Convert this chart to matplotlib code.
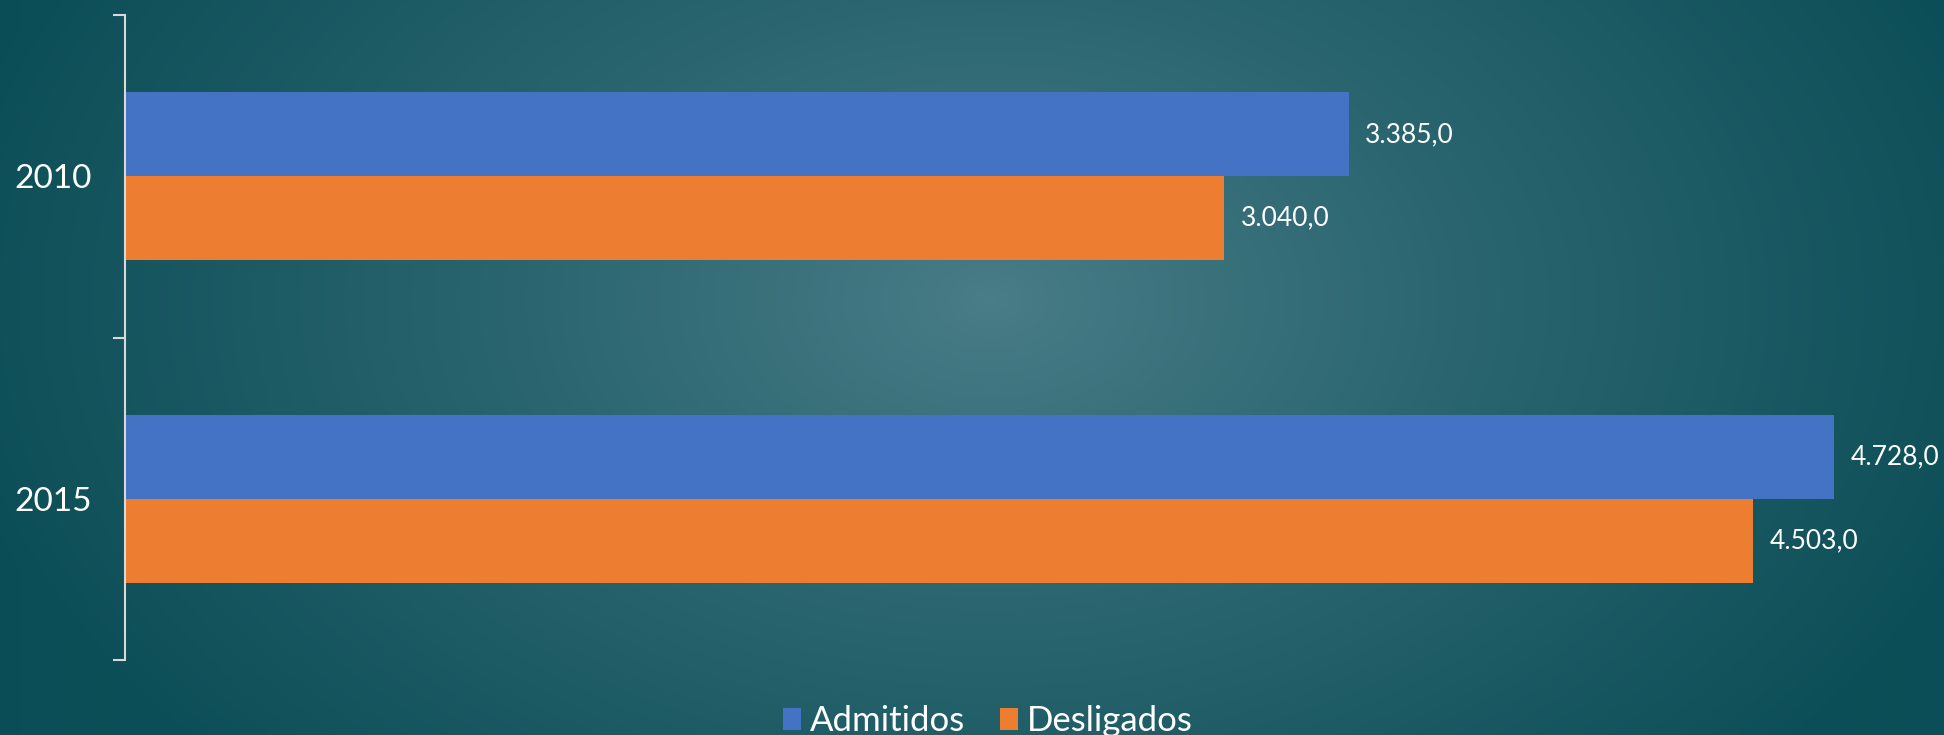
import numpy as np
import matplotlib.pyplot as plt
from matplotlib.colors import to_rgb

# ------------------------------------------------------------
# Data
# ------------------------------------------------------------
years = ["2010", "2015"]
admitidos = [3385.0, 4728.0]
desligados = [3040.0, 4503.0]
series_names = ["Admitidos", "Desligados"]

BLUE = "#4472c4"
ORANGE = "#ed7d31"
BG_CENTER = "#4a7e89"
BG_EDGE = "#0c4e57"

plt.rcParams["font.family"] = ["Lato", "DejaVu Sans"]

W, H = 1944, 735
fig = plt.figure(figsize=(W / 100, H / 100), dpi=100)

# ------------------------------------------------------------
# Radial background
# ------------------------------------------------------------
bg = fig.add_axes([0, 0, 1, 1], zorder=-10)
yy, xx = np.mgrid[0:H, 0:W]
r = np.sqrt(((xx - 990) / 1050.0) ** 2 + ((yy - 300) / 700.0) ** 2)
t = np.clip(r, 0, 1) ** 0.85
c0 = np.array(to_rgb(BG_CENTER))
c1 = np.array(to_rgb(BG_EDGE))
img = c0[None, None, :] * (1 - t[..., None]) + c1[None, None, :] * t[..., None]
bg.imshow(img, aspect="auto", extent=[0, 1, 0, 1], origin="upper")
bg.axis("off")

# ------------------------------------------------------------
# Bars
# ------------------------------------------------------------
ax = fig.add_axes([125 / W, 75 / H, 1807.5 / W, 645 / H])
ax.patch.set_alpha(0)

pos = np.arange(len(years))
bh = 0.26
b1 = ax.barh(pos - bh / 2, admitidos, height=bh, color=BLUE, label=series_names[0])
b2 = ax.barh(pos + bh / 2, desligados, height=bh, color=ORANGE, label=series_names[1])

fmt = lambda v: f"{v:,.1f}".replace(",", "X").replace(".", ",").replace("X", ".")
for bars in (b1, b2):
    ax.bar_label(bars, labels=[fmt(b.get_width()) for b in bars],
                 padding=12, color="white", fontsize=19)

ax.set_xlim(0, 5000)
ax.set_ylim(1.5, -0.5)
ax.xaxis.set_visible(False)
for s in ("top", "right", "bottom"):
    ax.spines[s].set_visible(False)
ax.spines["left"].set_color("#d9d9d9")
ax.spines["left"].set_linewidth(1.5)

# boundary ticks on the axis, year labels between them
ax.set_yticks([-0.5, 0.5, 1.5])
ax.set_yticklabels([])
ax.tick_params(axis="y", which="major", direction="out", length=8.6,
               width=1.5, color="#d9d9d9")
ax.set_yticks(pos, minor=True)
ax.set_yticklabels(years, minor=True)
ax.tick_params(axis="y", which="minor", length=0, pad=24, labelsize=24,
               labelcolor="white")

leg = fig.legend(loc="center", bbox_to_anchor=(988 / W, 14 / H), ncol=2,
                 frameon=False, fontsize=25, handlelength=0.52, handleheight=0.6,
                 handletextpad=0.26, columnspacing=1.0, labelcolor="white")

fig.savefig("out.png", dpi=100)
